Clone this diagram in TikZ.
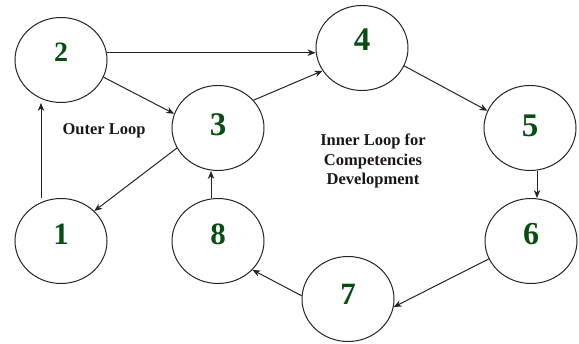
\documentclass[tikz,border=0pt]{standalone}
\usepackage{fontspec}
\setmainfont{Liberation Serif}
\usetikzlibrary{shapes.geometric,arrows.meta}
\definecolor{digitgreen}{RGB}{8,78,20}
\definecolor{linegray}{RGB}{35,35,35}
\definecolor{labelink}{RGB}{30,22,22}
\newcommand{\dg}[3]{\raisebox{#1pt}[\height][0pt]{\fontsize{#2}{#2}\selectfont #3}}
\begin{document}
\begin{tikzpicture}[x=1pt,y=-1pt,
  stage/.style={ellipse,draw=linegray,line width=1pt,minimum width=92pt,minimum height=85pt,inner sep=0pt,
    text=digitgreen,font=\bfseries},
  arr/.style={draw=linegray,line width=1pt,-{Stealth[length=8pt,width=6.5pt]}},
  lab/.style={text=labelink,font=\fontsize{16.5}{19.5}\selectfont\bfseries,align=center,inner sep=0pt}]
\useasboundingbox (0,0) rectangle (579,344);
\node[stage] (n2) at (61,60) {\dg{8}{28}{2}};
\node[stage] (n3) at (218,128) {\dg{3}{33}{3}};
\node[stage] (n4) at (362,48) {\dg{8}{33}{4}};
\node[stage] (n5) at (530,128) {\dg{2}{33}{5}};
\node[stage] (n6) at (531,241) {\dg{7}{32}{6}};
\node[stage] (n7) at (348,299) {\dg{4.5}{31}{7}};
\node[stage] (n1) at (61,241) {\dg{6.5}{31}{1}};
\node[stage] (n8) at (218,241) {\dg{6.5}{31}{8}};
\node[lab] (outer) at (104,131) {Outer Loop};
\node[lab] (inner) at (373,161) {Inner Loop for\\Competencies\\Development};
\draw[arr] (n2.9) -- (n2.9 -| n4.west);
\draw[arr] (n2.-22) -- (n3.162);
\draw[arr] (n3.38) -- (n4.210);
\draw[arr] (n4.-23) -- (n5.158);
\draw[arr] ([xshift=7pt]n5.south) -- ([xshift=6pt]n6.north);
\draw[arr] (n6.203) -- (n7.-10);
\draw[arr] (n7.176) -- (n8.-40);
\draw[arr] ([xshift=-7pt]n8.north) -- ([xshift=-7pt]n3.south);
\draw[arr] (n3.206) -- (n1.42);
\draw[arr] ([xshift=-20pt]n1.north) -- ([xshift=-20pt]n2.south);
\end{tikzpicture}
\end{document}
